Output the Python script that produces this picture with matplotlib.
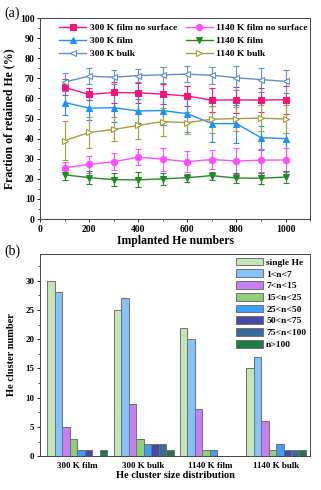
import numpy as np
import matplotlib
matplotlib.use('Agg')
import matplotlib.pyplot as plt
import matplotlib.lines as mlines
from matplotlib.ticker import MultipleLocator

plt.rcParams['font.family'] = ['Liberation Serif', 'DejaVu Serif']
plt.rcParams['font.weight'] = 'bold'
plt.rcParams['axes.labelweight'] = 'bold'

########## data (a) ##########
implanted = [100, 200, 300, 400, 500, 600, 700, 800, 900, 1000]

film300_ns = [65.5, 62.0, 63.0, 62.8, 62.2, 61.2, 59.2, 59.3, 59.2, 59.4]
film300_ns_err = [4.0, 3.0, 5.0, 5.0, 5.0, 5.0, 6.0, 6.5, 6.0, 7.0]
film1140_ns = [25.5, 27.2, 28.5, 30.8, 29.8, 28.6, 29.6, 28.9, 29.3, 29.4]
film1140_ns_err = [3.0, 4.3, 4.2, 4.0, 5.7, 5.4, 4.7, 6.5, 5.8, 6.0]
film300 = [58.0, 55.2, 55.4, 53.8, 54.0, 52.4, 47.5, 47.5, 40.5, 40.0]
film300_err = [6.3, 6.0, 7.0, 6.0, 7.0, 9.0, 9.0, 9.5, 6.0, 10.0]
film1140 = [22.0, 20.6, 19.6, 19.5, 20.0, 20.6, 21.6, 20.4, 20.3, 20.9]
film1140_err = [2.5, 3.2, 3.2, 3.7, 3.0, 2.0, 2.0, 2.5, 2.7, 3.0]
bulk300 = [68.2, 71.1, 70.6, 71.4, 71.8, 72.1, 71.6, 70.3, 69.4, 68.5]
bulk300_err = [4.5, 4.0, 3.5, 3.2, 4.0, 4.0, 4.2, 6.0, 6.0, 5.8]
bulk1140 = [39.0, 43.1, 44.6, 46.6, 48.5, 48.0, 49.7, 50.0, 50.2, 49.8]
bulk1140_err = [9.6, 7.8, 6.0, 7.0, 7.0, 5.5, 6.7, 6.0, 6.5, 7.0]

########## data (b) ##########
groups = ['300 K film', '300 K bulk', '1140 K film', '1140 K bulk']
sizes = ['single He', '1<n<7', '7<n<15', '15<n<25', '25<n<50', '50<n<75', '75<n<100', 'n>100']
counts = [
    [30, 28, 5, 3, 1, 1, 0, 1],   # 300 K film
    [25, 27, 9, 3, 2, 2, 2, 1],   # 300 K bulk
    [22, 20, 8, 1, 1, 0, 0, 0],   # 1140 K film
    [15, 17, 6, 1, 2, 1, 1, 1],   # 1140 K bulk
]
bar_colors = ['#c4e6b6', '#85c1fb', '#c680f2', '#8fcf78', '#3c9ef8', '#4848a6', '#3a6b9b', '#1e7b45']

fig = plt.figure(figsize=(3.21, 4.9), dpi=100)

########## panel (a) ##########
ax = fig.add_axes([0.125, 0.553, 0.841, 0.410])
series = [
    (film300_ns, film300_ns_err, '300 K film no surface', '#f5157a', 's', True),
    (film300, film300_err, '300 K film', '#1e8ff5', '^', True),
    (bulk300, bulk300_err, '300 K bulk', '#5f8fc6', '<', False),
    (film1140_ns, film1140_ns_err, '1140 K film no surface', '#ff4dff', 'o', True),
    (film1140, film1140_err, '1140 K film', '#1f8a20', 'v', True),
    (bulk1140, bulk1140_err, '1140 K bulk', '#a39d3a', '>', False),
]
handles = []
for y, e, lab, c, m, filled in series:
    style = dict(color=c, marker=m, ms=4.5, lw=1.0, mfc=c if filled else 'white',
                 mec=c, mew=0.8)
    ax.errorbar(implanted, y, yerr=e, elinewidth=0.8, capsize=2, capthick=0.8, **style)
    handles.append(mlines.Line2D([], [], label=lab, **style))
ax.set_xlim(0, 1100)
ax.set_ylim(0, 100)
ax.xaxis.set_major_locator(MultipleLocator(200))
ax.xaxis.set_minor_locator(MultipleLocator(100))
ax.yaxis.set_major_locator(MultipleLocator(10))
ax.yaxis.set_minor_locator(MultipleLocator(5))
ax.tick_params(labelsize=7, length=2.5, width=0.6, direction='out', pad=1.5)
ax.tick_params(which='minor', length=1.5, width=0.5)
ax.set_xlabel('Implanted He numbers', fontsize=8.5, labelpad=1)
ax.set_ylabel('Fraction of retained He (%)', fontsize=8.5, labelpad=3)
ax.legend(handles=handles, ncol=2, loc='upper left', bbox_to_anchor=(0.05, 1.0),
          frameon=False, fontsize=6.8, handlelength=2.8, columnspacing=1.0,
          handletextpad=0.4, labelspacing=0.45, borderaxespad=0.2)
for s in ax.spines.values():
    s.set_linewidth(0.7)
    s.set_color('#444444')
fig.text(0.015, 0.972, '(a)', fontsize=10, fontweight='normal', va='center')

########## panel (b) ##########
bx = fig.add_axes([0.125, 0.069, 0.841, 0.413])
xs = np.arange(1, len(groups) + 1)
w = 0.113
counts = np.array(counts)
for i, lab in enumerate(sizes):
    bx.bar(xs + (i - 3.5) * w, counts[:, i], width=w, color=bar_colors[i],
           edgecolor='#707070', linewidth=0.7, label=lab)
bx.set_xlim(0.44, 4.51)
bx.set_ylim(0, 34.6)
bx.set_xticks(xs)
bx.set_xticklabels(groups)
bx.yaxis.set_major_locator(MultipleLocator(5))
bx.yaxis.set_minor_locator(MultipleLocator(2.5))
bx.tick_params(labelsize=6.5, length=2.5, width=0.6, direction='out', pad=1.5)
bx.tick_params(axis='x', length=0, pad=4)
bx.tick_params(which='minor', length=1.5, width=0.5)
bx.set_xlabel('He cluster size distribution', fontsize=7.5, labelpad=1)
bx.set_ylabel('He cluster number', fontsize=7.5, labelpad=7)
bx.legend(loc='upper right', frameon=False, fontsize=6.8, handlelength=2.9,
          handleheight=0.9, handletextpad=0.3, labelspacing=0.27,
          borderaxespad=0.1, borderpad=0.3)
for s in bx.spines.values():
    s.set_linewidth(0.7)
    s.set_color('#444444')
fig.text(0.015, 0.488, '(b)', fontsize=10, fontweight='normal', va='center')

fig.savefig('out.png', dpi=100)
